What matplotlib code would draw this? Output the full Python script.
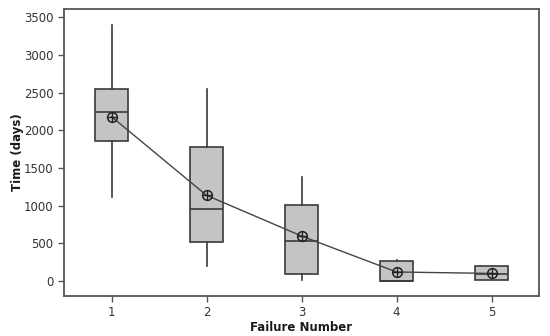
import matplotlib.pyplot as plt

# Failure time statistics
failure_number = [1, 2, 3, 4, 5]
q1 = [1862, 522, 93, 4, 13]
median = [2247, 952, 535, 4, 93]
q3 = [2548, 1783, 1005, 261, 199]
whisker_low = [1111, 203, 13, 4, 13]
whisker_high = [3398, 2550, 1376, 275, 199]
mean = [2181, 1137, 597, 119, 100]

stats = []
for i in range(len(failure_number)):
    stats.append({'med': median[i], 'q1': q1[i], 'q3': q3[i],
                  'whislo': whisker_low[i], 'whishi': whisker_high[i],
                  'fliers': [], 'label': str(failure_number[i])})

fig = plt.figure(figsize=(5.5, 3.36), dpi=100)
ax = fig.add_axes([0.1164, 0.119, 0.8636, 0.854])

edge = '#3a3a3a'
ax.bxp(stats, positions=failure_number, widths=0.34, showcaps=False,
       patch_artist=True,
       boxprops=dict(facecolor='#c4c4c4', edgecolor=edge, linewidth=1.2),
       medianprops=dict(color=edge, linewidth=1.2),
       whiskerprops=dict(color=edge, linewidth=1.2))

# mean connect line with circle-plus markers
ax.plot(failure_number, mean, color='#444444', linewidth=1.0, zorder=3)
ax.plot(failure_number, mean, linestyle='none', marker='o', markersize=7,
        markerfacecolor='none', markeredgecolor='#222222', markeredgewidth=1.1, zorder=4)
ax.plot(failure_number, mean, linestyle='none', marker='+', markersize=7,
        markeredgecolor='#222222', markeredgewidth=1.0, zorder=4)

ax.set_xlim(0.5, 5.5)
ax.set_ylim(-200, 3610)
ax.set_yticks([0, 500, 1000, 1500, 2000, 2500, 3000, 3500])
ax.set_xticks(failure_number)
ax.set_xticklabels([str(n) for n in failure_number])

for s in ax.spines.values():
    s.set_color('#555555')
    s.set_linewidth(1.3)
ax.tick_params(direction='out', length=4, width=1, color='#555555',
               labelsize=8.5, labelcolor='#333333')

ax.set_xlabel('Failure Number', fontsize=8.5, fontweight='bold', color='#1a1a1a', labelpad=1)
ax.set_ylabel('Time (days)', fontsize=8.5, fontweight='bold', color='#1a1a1a', labelpad=0)

fig.savefig('out.png', dpi=100)
